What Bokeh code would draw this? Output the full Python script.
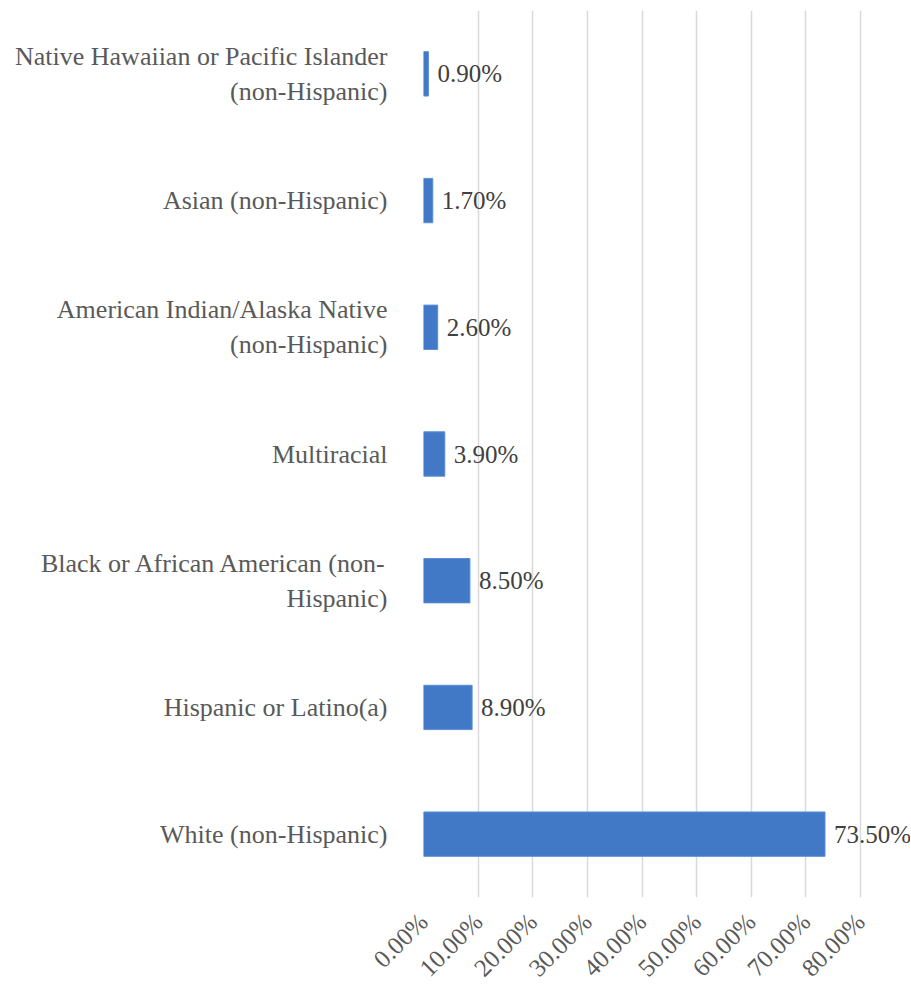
import math
from bokeh.plotting import figure
from bokeh.models import FactorRange, Range1d, FixedTicker, PrintfTickFormatter, ColumnDataSource, LabelSet
from bokeh.embed import file_html
from bokeh.resources import INLINE

# Top-to-bottom order as in the reference
categories = [
    "Native Hawaiian or Pacific Islander\n(non-Hispanic)",
    "Asian (non-Hispanic)",
    "American Indian/Alaska Native\n(non-Hispanic)",
    "Multiracial",
    "Black or African American (non-\nHispanic)",
    "Hispanic or Latino(a)",
    "White (non-Hispanic)",
]
values = [0.9, 1.7, 2.6, 3.9, 8.5, 8.9, 73.5]
x_ticks = [0, 10, 20, 30, 40, 50, 60, 70, 80]

FONT = "Liberation Serif"

cats_bottom_up = list(reversed(categories))
vals_bottom_up = list(reversed(values))
labels_bottom_up = ["%.2f%%" % v for v in vals_bottom_up]

src = ColumnDataSource(dict(cat=cats_bottom_up, val=vals_bottom_up, lab=labels_bottom_up))

p = figure(width=910, height=994, output_backend="svg", toolbar_location=None,
           y_range=FactorRange(*cats_bottom_up), x_range=Range1d(0, 89.15),
           min_border_left=423, min_border_right=0, min_border_top=10, min_border_bottom=95)
p.outline_line_color = None

p.hbar(y="cat", right="val", left=0, height=0.35, source=src,
       fill_color="#4179C6", line_color="#5A8FD6", line_width=1)

labels = LabelSet(x="val", y="cat", text="lab", source=src, x_offset=9,
                  text_baseline="middle", text_font=FONT, text_font_size="25px",
                  text_color="#404040")
p.add_layout(labels)

p.xgrid.grid_line_color = "#d9d9d9"
p.xgrid.grid_line_width = 1.5
p.ygrid.grid_line_color = None

p.xaxis.ticker = FixedTicker(ticks=x_ticks)
p.xaxis.formatter = PrintfTickFormatter(format="%.2f%%")
p.xaxis.major_label_orientation = math.pi / 4
p.xaxis.axis_line_color = None
p.xaxis.major_tick_line_color = None
p.xaxis.minor_tick_line_color = None
p.xaxis.major_label_text_font = FONT
p.xaxis.major_label_text_font_size = "25px"
p.xaxis.major_label_text_color = "#595959"
p.xaxis.major_label_standoff = 14

p.yaxis.axis_line_color = None
p.yaxis.major_tick_line_color = None
p.yaxis.minor_tick_line_color = None
p.yaxis.major_label_text_font = FONT
p.yaxis.major_label_text_font_size = "26px"
p.yaxis.major_label_text_color = "#595959"
p.yaxis.major_label_standoff = 30

open("out.html", "w").write(file_html(p, INLINE))
